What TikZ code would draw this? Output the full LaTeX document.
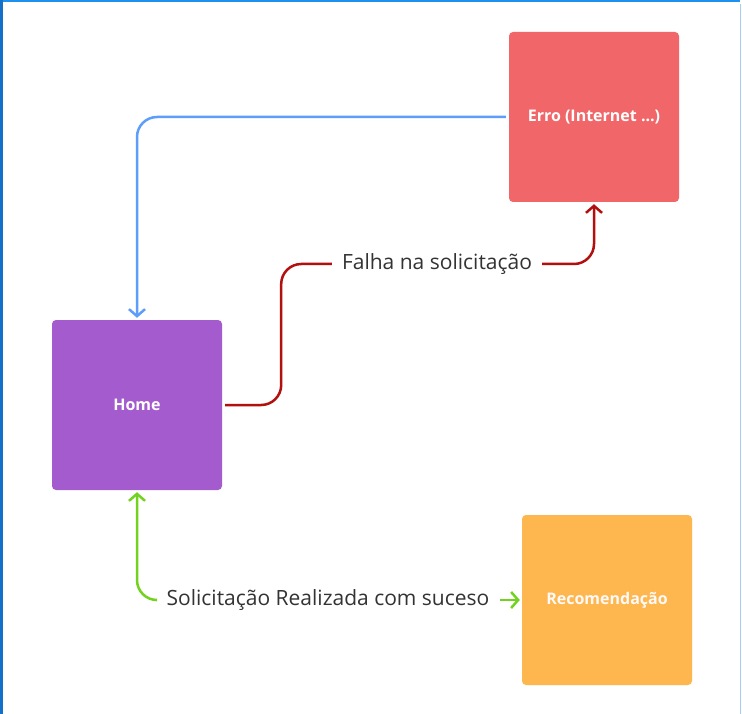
\documentclass[tikz,border=0pt]{standalone}
\usepackage{fontspec}
\setmainfont{Open Sans}
\usepackage{xcolor}
\usetikzlibrary{arrows.meta,positioning}
\definecolor{erroCor}{HTML}{F16769}
\definecolor{homeCor}{HTML}{A45BCE}
\definecolor{recCor}{HTML}{FEB74E}
\definecolor{azulLinha}{HTML}{5C9EFA}
\definecolor{vermLinha}{HTML}{B20F0F}
\definecolor{verdeLinha}{HTML}{73D21E}
\definecolor{cinzaTexto}{HTML}{333333}
\definecolor{molduraTopo}{HTML}{1E90EE}
\definecolor{molduraEsq}{HTML}{1470C8}
\definecolor{molduraDir}{HTML}{A8CFF2}
\tikzstyle{tela}=[rectangle, rounded corners=4pt, minimum width=170pt, minimum height=170pt, inner sep=0pt, font=\bfseries\fontsize{16}{19}\selectfont, text=white]
\tikzstyle{fluxo}=[line width=2.5pt, rounded corners=20pt]
\tikzstyle{ponta}=[-{Straight Barb[length=7pt,width=16pt,line width=2.5pt]}]
\tikzstyle{rotulo}=[inner xsep=10pt, inner ysep=4pt, font=\fontsize{21}{25}\selectfont, text=cinzaTexto]

\begin{document}
\begin{tikzpicture}[x=1pt,y=-1pt]
\fill[white] (0,0) rectangle (742,714);
\useasboundingbox (0,0) rectangle (742,714);
% moldura
\fill[molduraTopo] (0,0) rectangle (740,2.5);
\fill[molduraEsq] (0,0) rectangle (2.5,714);
\fill[molduraDir] (740,4) rectangle (741,714);
% telas
\node[tela, fill=erroCor] (erro) at (594,117) {Erro (Internet ...)};
\node[tela, fill=homeCor] (home) at (137,405) {Home};
\node[tela, fill=recCor, text=white!90!pink] (rec) at (607,600) {Recomendação};
% rotulos
\node[rotulo] (falha) at (437,264) {Falha na solicitação};
\node[rotulo] (sucesso) at (328,600) {Solicitação Realizada com suceso};
% ligacoes
\draw[fluxo, ponta, azulLinha, shorten <=3pt, shorten >=2pt] (erro.west) -| (home.north);
\draw[fluxo, vermLinha, shorten <=3pt] (home.east) -- ++(59,0) |- (falha.west);
\draw[fluxo, ponta, vermLinha, shorten >=2pt] (falha.east) -| (erro.south);
\draw[fluxo, ponta, verdeLinha, shorten >=2pt] (sucesso.west) -| (home.south);
\draw[fluxo, ponta, verdeLinha, shorten >=2pt] (sucesso.east) -- (rec.west);
\end{tikzpicture}
\end{document}
